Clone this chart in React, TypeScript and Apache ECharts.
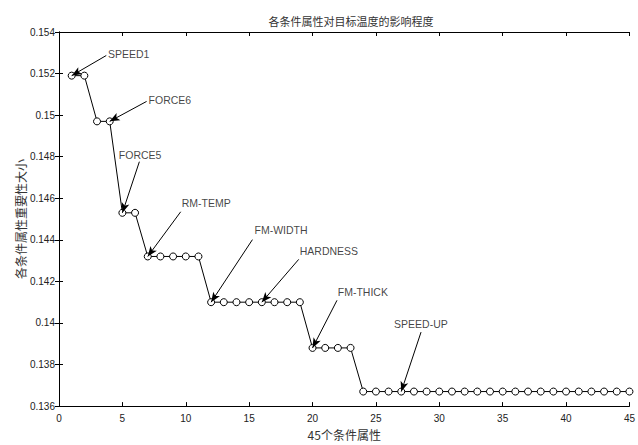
import React, { useEffect, useRef } from "react";
import * as echarts from "echarts";

const xValues: number[] = Array.from({ length: 45 }, (_, i) => i + 1);
const importance: number[] = [
  0.1519, 0.1519,
  0.1497, 0.1497,
  0.1453, 0.1453,
  0.1432, 0.1432, 0.1432, 0.1432, 0.1432,
  0.141, 0.141, 0.141, 0.141, 0.141, 0.141, 0.141, 0.141,
  0.1388, 0.1388, 0.1388, 0.1388,
  0.1367, 0.1367, 0.1367, 0.1367, 0.1367, 0.1367, 0.1367, 0.1367, 0.1367, 0.1367, 0.1367,
  0.1367, 0.1367, 0.1367, 0.1367, 0.1367, 0.1367, 0.1367, 0.1367, 0.1367, 0.1367, 0.1367,
];

const annoNames: string[] = ["SPEED1", "FORCE6", "FORCE5", "RM-TEMP", "FM-WIDTH", "HARDNESS", "FM-THICK", "SPEED-UP"];
// text anchor (left-middle) in data coordinates
const annoTextPos: [number, number][] = [
  [3.86, 0.15296], [7.07, 0.15074], [4.72, 0.1481], [9.68, 0.14577],
  [15.42, 0.14445], [18.99, 0.14346], [21.99, 0.14149], [26.43, 0.13996],
];
// arrow tail in data coordinates
const annoArrowStart: [number, number][] = [
  [3.73, 0.15287], [6.91, 0.15066], [6.34, 0.14776], [9.6, 0.14535],
  [15.26, 0.14401], [18.91, 0.14306], [21.93, 0.14109], [28.56, 0.13956],
];
// which point (1-based x) each arrow points at
const annoTarget: number[] = [1, 4, 5, 7, 12, 16, 20, 27];

const titleText = "各条件属性对目标温度的影响程度";
const xName = "45个条件属性";
const yName = "各条件属性重要性大小";

export default function App() {
  const ref = useRef<HTMLDivElement>(null);
  useEffect(() => {
    document.body.style.margin = "0";
    if (!ref.current) return;
    const chart = echarts.init(ref.current, undefined, { renderer: "svg" });
    const cjk = '"Noto Sans CJK SC", sans-serif';
    const lat = '"Liberation Sans", Arial, sans-serif';
    const fmtY = (v: number) => String(+v.toFixed(3));
    const axisCommon = {
      axisLine: { show: true, lineStyle: { color: "#000", width: 1 } },
      axisTick: { show: true, inside: true, length: 4, lineStyle: { color: "#000" } },
      splitLine: { show: false },
    };
    chart.setOption({
      animation: false,
      backgroundColor: "#fff",
      title: {
        text: titleText,
        left: 346,
        textAlign: "center",
        top: 10,
        textStyle: { fontFamily: cjk, fontSize: 11, fontWeight: "normal", color: "#333" },
      },
      grid: { left: 59, right: 4, top: 32, bottom: 32, containLabel: false },
      xAxis: [
        {
          type: "value", min: 0, max: 45, interval: 5, position: "bottom",
          name: xName, nameLocation: "middle", nameGap: 16,
          nameTextStyle: { fontFamily: cjk, fontSize: 12, color: "#333" },
          axisLabel: { fontFamily: lat, fontSize: 10, color: "#222", margin: 7 },
          ...axisCommon,
        },
        {
          type: "value", min: 0, max: 45, interval: 5, position: "top",
          axisLabel: { show: false }, ...axisCommon,
        },
      ],
      yAxis: [
        {
          type: "value", min: 0.136, max: 0.154, interval: 0.002, position: "left",
          name: yName, nameLocation: "middle", nameGap: 33, nameRotate: 90,
          nameMoveOverlap: false,
          nameTextStyle: { fontFamily: cjk, fontSize: 12, color: "#333" },
          axisLabel: { fontFamily: lat, fontSize: 10, color: "#222", margin: 4, formatter: fmtY },
          ...axisCommon,
        },
        {
          type: "value", min: 0.136, max: 0.154, interval: 0.002, position: "right",
          axisLabel: { show: false }, ...axisCommon,
        },
      ],
      series: [
        {
          type: "line",
          data: xValues.map((x, i) => [x, importance[i]]),
          symbol: "circle",
          symbolSize: 7,
          showAllSymbol: true,
          lineStyle: { color: "#000", width: 1 },
          itemStyle: { color: "#fff", borderColor: "#000", borderWidth: 1 },
          z: 3,
          markLine: {
            silent: true,
            symbol: ["none", "arrow"],
            symbolSize: [6, 10],
            label: { show: false },
            lineStyle: { color: "#000", width: 1, type: "solid" },
            data: annoNames.map((_, k) => [
              { coord: annoArrowStart[k] },
              { coord: [annoTarget[k], importance[annoTarget[k] - 1]] },
            ]),
          },
        },
        {
          type: "scatter",
          data: annoNames.map((n, k) => ({ value: annoTextPos[k], name: n })),
          symbolSize: 0,
          silent: true,
          label: {
            show: true,
            position: [0, 0],
            align: "left",
            verticalAlign: "middle",
            formatter: (p: any) => p.name,
            fontFamily: lat,
            fontSize: 10.5,
            color: "#111",
          },
          z: 4,
        },
      ],
    });
    return () => chart.dispose();
  }, []);
  return <div ref={ref} style={{ width: 638, height: 445 }} />;
}
